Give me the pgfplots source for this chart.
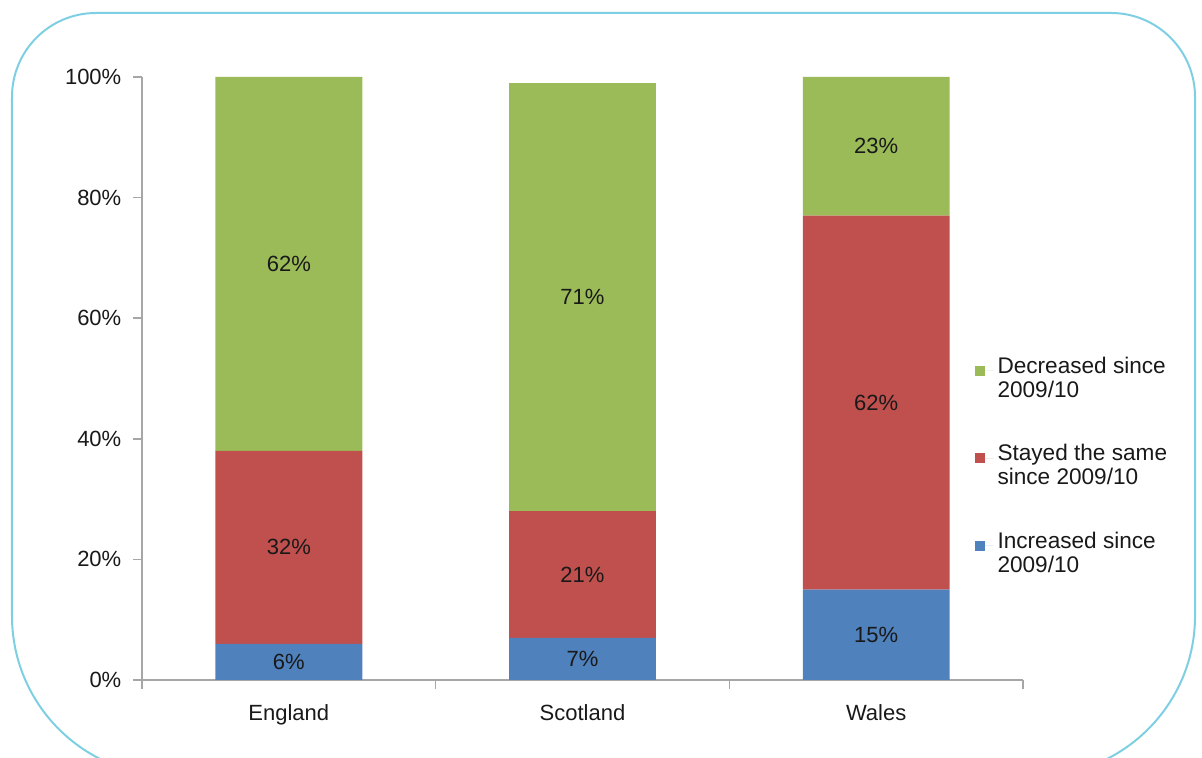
\documentclass[border=0pt,11pt]{standalone}
\usepackage{fontspec}
\setmainfont{Liberation Sans}
\usepackage{pgfplots}
\pgfplotsset{compat=1.18}
\definecolor{xlblue}{HTML}{4F81BD}
\definecolor{xlred}{HTML}{C0504D}
\definecolor{xlgreen}{HTML}{9BBB59}
\definecolor{frame}{HTML}{7FCFE2}
\definecolor{axgray}{HTML}{A6A6A6}
\begin{document}
\begin{tikzpicture}
\begin{scope}
\clip (-71pt,-39pt) rectangle (530pt,340pt);
\draw[frame, line width=1pt] (-65pt,150pt) [rounded corners=42pt] -- (-65pt,333.5pt) -- (526.5pt,333.5pt) -- (526.5pt,150pt)
   [rounded corners=80pt] -- (526.5pt,-48pt) -- (-65pt,-48pt) -- (-65pt,150pt);
\end{scope}
\path[use as bounding box] (-71pt,-39pt) rectangle (530pt,340pt);
\begin{axis}[
  at={(0,0)}, anchor=south west,
  scale only axis,
  width=440.5pt, height=301.5pt,
  ybar stacked,
  bar width=0.5,
  xmin=-0.5, xmax=2.5,
  ymin=0, ymax=100,
  xtick={0,1,2},
  xticklabels={England,Scotland,Wales},
  minor xtick={-0.5,0.5,1.5,2.5},
  ytick={0,20,40,60,80,100},
  yticklabel={\pgfmathprintnumber{\tick}\%},
  /pgf/number format/assume math mode=true,
  axis x line*=bottom,
  axis y line*=left,
  axis line style={axgray, line width=0.8pt},
  tick style={axgray, line width=0.8pt},
  tick align=outside,
  major tick length=4.5pt,
  minor tick length=4.5pt,
  x tick style={draw=none},
  minor x tick style={axgray, line width=0.8pt, draw=axgray},
  xticklabel style={yshift=-4pt},
  yticklabel style={xshift=-2pt},
  tick label style={font=\fontsize{11}{12}\selectfont, text=black!90},
  point meta=explicit,
  nodes near coords={\pgfmathprintnumber{\pgfplotspointmeta}\%},
  every node near coord/.append style={font=\fontsize{11}{12}\selectfont, text=black!90,
     anchor=center},
  reverse legend,
  legend cell align=left,
  legend style={draw=none, fill=none, at={(0.9377,0.55)}, anchor=north west,
     font=\fontsize{11.3}{12}\selectfont, nodes={align=left, text=black!90}, row sep=18pt},
  legend image code/.code={\fill[#1] (0pt,1.5pt) rectangle (5pt,6.5pt); \path (0pt,4pt) -- (9.5pt,4pt);},
]
\addplot[fill=xlblue, draw=none] table[x=x, y=v, meta=v] {
x v
0 6
1 7
2 15
};
\addplot[fill=xlred, draw=none] table[x=x, y=v, meta=v] {
x v
0 32
1 21
2 62
};
\addplot[fill=xlgreen, draw=none] table[x=x, y=v, meta=v] {
x v
0 62
1 71
2 23
};
\legend{Increased since\\2009/10, Stayed the same\\since 2009/10, Decreased since\\2009/10}
\end{axis}
\end{tikzpicture}
\end{document}
